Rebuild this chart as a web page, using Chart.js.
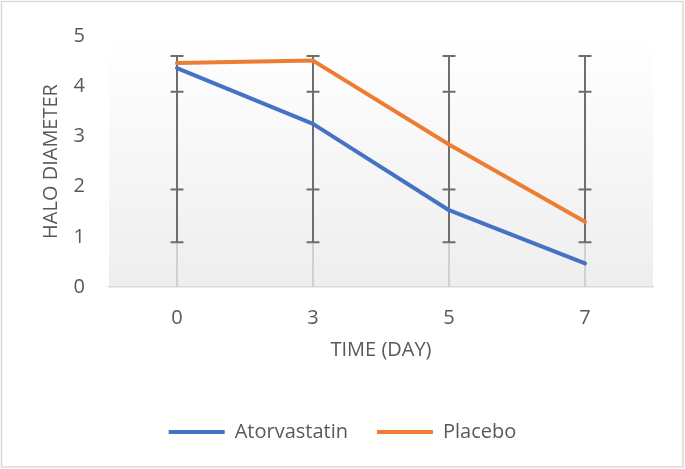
<!DOCTYPE html>
<html>
<head>
<meta charset="utf-8">
<script src="https://cdn.jsdelivr.net/npm/chart.js@4"></script>
<style>
  html, body { margin: 0; padding: 0; background: #fff; }
  #wrap { width: 685px; height: 469px; }
</style>
</head>
<body>
<div id="wrap"><canvas id="chart"></canvas></div>
<script>
// values
const days = ['0', '3', '5', '7'];
const atorvastatin = [4.36, 3.25, 1.53, 0.47];
const placebo = [4.46, 4.51, 2.84, 1.30];
// error bar cap levels, same at every day
const errorCaps = [0.89, 1.94, 3.89, 4.60];
const yTicks = [0, 1, 2, 3, 4, 5];

const textColor = '#595959';
const blue = '#4472C4';
const orange = '#ED7D31';

// gradient plot background + outer border
const backdrop = {
  id: 'backdrop',
  beforeDraw(chart) {
    const { ctx, chartArea: a } = chart;
    ctx.save();
    ctx.fillStyle = '#fff';
    ctx.fillRect(0, 0, chart.width, chart.height);
    let g = ctx.createLinearGradient(0, a.top, 0, a.bottom);
    g.addColorStop(0, '#ffffff');
    g.addColorStop(1, '#eeeeee');
    ctx.fillStyle = g;
    ctx.fillRect(a.left, a.top, a.right - a.left, a.bottom - a.top);
    ctx.strokeStyle = '#d9d9d9';
    ctx.lineWidth = 1.5;
    ctx.strokeRect(1.5, 1.5, chart.width - 3.5, chart.height - 3.5);
    ctx.restore();
  }
};

// drop lines and error bars under the series
const errorBars = {
  id: 'errorBars',
  beforeDatasetsDraw(chart) {
    const { ctx, scales: { x, y } } = chart;
    const lo = Math.min(...errorCaps);
    const hi = Math.max(...errorCaps);
    ctx.save();
    days.forEach((d, i) => {
      const px = x.getPixelForValue(i);
      const top = Math.max(atorvastatin[i], placebo[i]);
      ctx.strokeStyle = '#d0d0d0';
      ctx.lineWidth = 2;
      ctx.beginPath();
      ctx.moveTo(px, y.getPixelForValue(0));
      ctx.lineTo(px, y.getPixelForValue(top));
      ctx.stroke();

      ctx.strokeStyle = '#6e6e6e';
      ctx.lineWidth = 2;
      ctx.beginPath();
      ctx.moveTo(px, y.getPixelForValue(lo));
      ctx.lineTo(px, y.getPixelForValue(hi));
      errorCaps.forEach(c => {
        const py = y.getPixelForValue(c);
        ctx.moveTo(px - 6.5, py);
        ctx.lineTo(px + 6.5, py);
      });
      ctx.stroke();
    });
    ctx.restore();
  }
};

const font = { family: "'Open Sans', sans-serif", size: 20 };

new Chart(document.getElementById('chart'), {
  type: 'line',
  data: {
    labels: days,
    datasets: [
      { label: 'Atorvastatin', data: atorvastatin, borderColor: blue, backgroundColor: blue },
      { label: 'Placebo', data: placebo, borderColor: orange, backgroundColor: orange }
    ]
  },
  options: {
    responsive: true,
    maintainAspectRatio: false,
    animation: false,
    layout: { padding: { left: 0, right: 0, top: 28, bottom: 17 } },
    elements: {
      line: { borderWidth: 4, tension: 0, borderJoinStyle: 'round', borderCapStyle: 'round' },
      point: { radius: 0, hoverRadius: 0 }
    },
    scales: {
      x: {
        offset: true,
        grid: { display: false, drawTicks: false },
        border: { display: true, color: '#d9d9d9', width: 1.5 },
        ticks: { color: textColor, font: font, padding: 19, maxRotation: 0 },
        title: { display: true, text: 'TIME (DAY)', color: textColor, font: font, padding: { top: 0, bottom: 31 } },
        afterFit(s) { s.height = 106; }
      },
      y: {
        min: 0,
        max: 5,
        grid: { display: false, drawTicks: false },
        border: { display: false },
        afterBuildTicks(s) { s.ticks = yTicks.map(v => ({ value: v })); },
        ticks: { color: textColor, font: font, padding: 24 },
        title: { display: true, text: 'HALO DIAMETER', color: textColor, font: font, padding: { top: 39, bottom: 0 } },
        afterFit(s) { s.width = 109; }
      },
      right: {
        position: 'right',
        display: true,
        grid: { display: false, drawTicks: false },
        border: { display: false },
        ticks: { display: false },
        afterFit(s) { s.width = 32; }
      }
    },
    plugins: {
      legend: {
        position: 'bottom',
        labels: {
          color: textColor,
          font: font,
          boxWidth: 56,
          boxHeight: 4,
          padding: 29,
          generateLabels(chart) {
            const items = Chart.defaults.plugins.legend.labels.generateLabels(chart);
            items.forEach(it => { it.lineWidth = 0; it.strokeStyle = 'rgba(0,0,0,0)'; });
            return items;
          }
        }
      },
      tooltip: { enabled: false }
    }
  },
  plugins: [backdrop, errorBars]
});
</script>
</body>
</html>
